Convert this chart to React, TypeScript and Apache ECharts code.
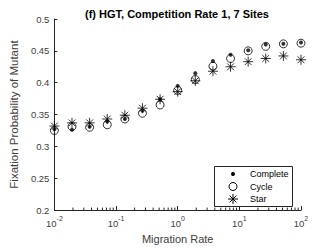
import React, { useEffect, useRef } from "react";
import * as echarts from "echarts";

const migrationRates = [0.01, 0.0193, 0.0373, 0.072, 0.139, 0.268, 0.518, 1, 1.93, 3.73, 7.2, 13.9, 26.8, 51.8, 100];
const completeVals = [0.327, 0.326, 0.331, 0.339, 0.343, 0.356, 0.374, 0.395, 0.415, 0.434, 0.444, 0.451, 0.46, 0.461, 0.463];
const cycleVals = [0.325, 0.331, 0.33, 0.334, 0.343, 0.352, 0.365, 0.388, 0.405, 0.426, 0.438, 0.45, 0.457, 0.461, 0.462];
const starVals = [0.332, 0.337, 0.337, 0.343, 0.349, 0.36, 0.374, 0.386, 0.403, 0.418, 0.425, 0.433, 0.438, 0.442, 0.436];
const minorTickVals = [
  0.02, 0.03, 0.04, 0.05, 0.06, 0.07, 0.08, 0.09,
  0.2, 0.3, 0.4, 0.5, 0.6, 0.7, 0.8, 0.9,
  2, 3, 4, 5, 6, 7, 8, 9,
  20, 30, 40, 50, 60, 70, 80, 90,
];
const seriesNames = ["Complete", "Cycle", "Star"];
const titleText = "(f) HGT, Competition Rate 1, 7 Sites";
const xName = "Migration Rate";
const yName = "Fixation Probability of Mutant";

const STAR_PATH = "M0,5L10,5M5,0L5,10M1.6,1.6L8.4,8.4M8.4,1.6L1.6,8.4";
let registered = false;

export default function App() {
  const ref = useRef<HTMLDivElement>(null);
  useEffect(() => {
    document.body.style.margin = "0";
    if (!registered) {
      echarts.graphic.registerShape("asterisk", echarts.graphic.extendPath(STAR_PATH, {}) as any);
      registered = true;
    }
    const chart = echarts.init(ref.current!, undefined, { renderer: "svg" });
    const font = "'Liberation Sans', Arial, Helvetica, sans-serif";
    const axisColor = "#262626";
    const labelColor = "#404040";
    const yAxisBottom = 0.2;
    const option: any = {
      animation: false,
      backgroundColor: "#fff",
      textStyle: { fontFamily: font },
      title: {
        text: titleText,
        left: 172,
        top: 3,
        textAlign: "center",
        textStyle: { fontFamily: font, fontSize: 11, fontWeight: "bold", color: "#000" },
      },
      grid: { left: 43, right: 31, top: 19, bottom: 35.5 },
      xAxis: {
        type: "log",
        logBase: 10,
        min: 0.01,
        max: 100,
        interval: 1,
        name: xName,
        nameLocation: "middle",
        nameGap: 22,
        nameTextStyle: { fontFamily: font, fontSize: 11, color: labelColor },
        axisLine: { show: true, lineStyle: { color: axisColor, width: 1 } },
        axisTick: { show: true, inside: true, length: 4, lineStyle: { color: axisColor } },
        splitLine: { show: false },
        axisLabel: {
          color: labelColor,
          margin: 5,
          formatter: (v: number) => {
            const e = Math.round(Math.log10(v));
            return "{b|10}{s|" + e + "}";
          },
          rich: {
            b: { fontSize: 9.5, fontFamily: font, color: labelColor, verticalAlign: "bottom", lineHeight: 13 },
            s: { fontSize: 7, fontFamily: font, color: labelColor, verticalAlign: "top", lineHeight: 13, padding: [0, 0, 6, 0] },
          },
        },
      },
      yAxis: {
        type: "value",
        min: 0.2,
        max: 0.5,
        interval: 0.05,
        name: yName,
        nameLocation: "middle",
        nameGap: 27,
        nameTextStyle: { fontFamily: font, fontSize: 11.5, color: labelColor },
        axisLine: { show: true, lineStyle: { color: axisColor, width: 1 } },
        axisTick: { show: true, inside: true, length: 3, lineStyle: { color: axisColor } },
        splitLine: { show: false },
        axisLabel: {
          color: labelColor,
          fontSize: 9.5,
          fontFamily: font,
          margin: 5,
          formatter: (v: number) => String(Math.round(v * 100) / 100),
        },
      },
      series: [
        {
          type: "custom",
          silent: true,
          data: minorTickVals.map((v) => [v, yAxisBottom]),
          renderItem: (params: any, api: any) => {
            const p = api.coord([api.value(0), api.value(1)]);
            return {
              type: "line",
              shape: { x1: p[0], y1: p[1], x2: p[0], y2: p[1] - 2.5 },
              style: { stroke: axisColor, lineWidth: 1 },
            };
          },
          z: 1,
        },
        {
          name: seriesNames[1],
          type: "scatter",
          symbol: "circle",
          symbolSize: 8,
          data: migrationRates.map((x, i) => [x, cycleVals[i]]),
          itemStyle: { color: "rgba(0,0,0,0)", borderColor: "#000", borderWidth: 1 },
          z: 2,
        },
        {
          name: seriesNames[0],
          type: "scatter",
          symbol: "circle",
          symbolSize: 4,
          data: migrationRates.map((x, i) => [x, completeVals[i]]),
          itemStyle: { color: "#000" },
          z: 3,
        },
        {
          name: seriesNames[2],
          type: "scatter",
          symbol: "path://" + STAR_PATH,
          symbolSize: 10,
          data: migrationRates.map((x, i) => [x, starVals[i]]),
          itemStyle: { color: "rgba(0,0,0,0)", borderColor: "#000", borderWidth: 1 },
          z: 4,
        },
      ],
      graphic: [
        {
          type: "rect",
          shape: { x: 214.5, y: 166.5, width: 78, height: 40 },
          style: { fill: "#fff", stroke: axisColor, lineWidth: 1 },
          z: 10,
        },
        { type: "circle", shape: { cx: 233, cy: 174, r: 2 }, style: { fill: "#000" }, z: 11 },
        { type: "circle", shape: { cx: 233, cy: 186.5, r: 4 }, style: { fill: "none", stroke: "#000", lineWidth: 1 }, z: 11 },
        { type: "asterisk", x: 228, y: 194, style: { fill: "none", stroke: "#000", lineWidth: 1 }, z: 11 },
        { type: "text", x: 250, y: 174, style: { text: seriesNames[0], fontSize: 9, fontFamily: font, fill: "#000", verticalAlign: "middle" }, z: 11 },
        { type: "text", x: 250, y: 186.5, style: { text: seriesNames[1], fontSize: 9, fontFamily: font, fill: "#000", verticalAlign: "middle" }, z: 11 },
        { type: "text", x: 250, y: 199, style: { text: seriesNames[2], fontSize: 9, fontFamily: font, fill: "#000", verticalAlign: "middle" }, z: 11 },
      ],
    };
    chart.setOption(option);
    return () => chart.dispose();
  }, []);
  return <div ref={ref} style={{ width: 332, height: 249 }} />;
}
